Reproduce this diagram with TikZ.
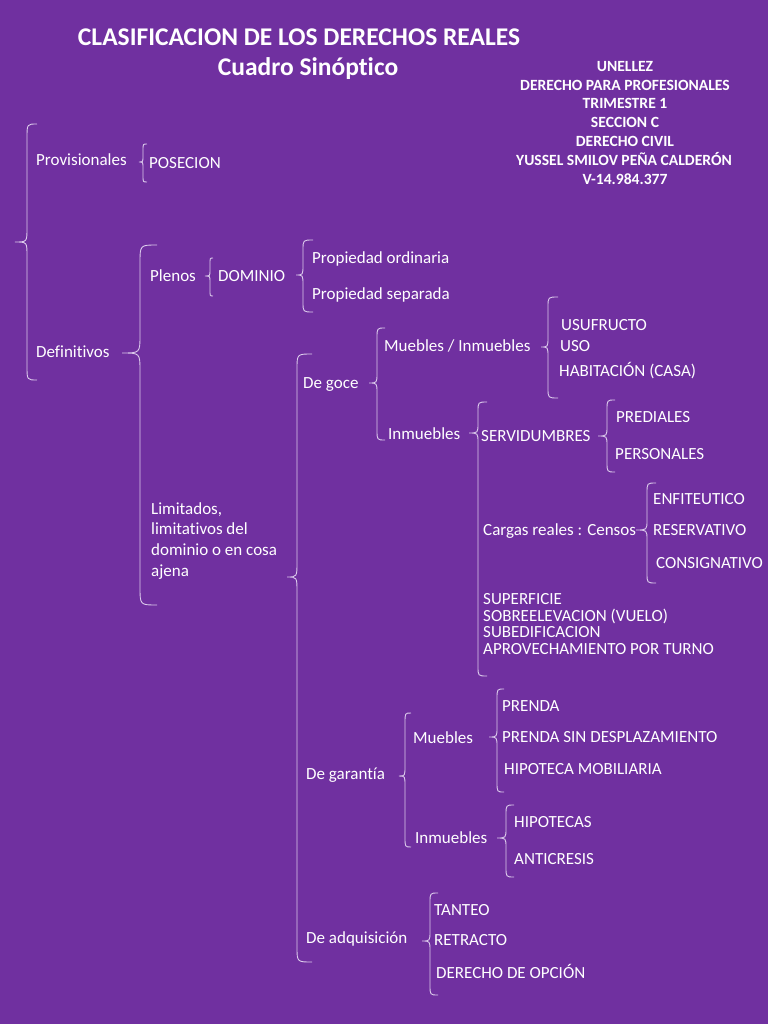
\documentclass[tikz,border=0pt]{standalone}
\usepackage{fontspec}
\setmainfont{Carlito}[Ligatures=NoCommon]
\definecolor{bg}{HTML}{7030A0}
\definecolor{brc}{HTML}{DCCBEC}
\newcommand\brc[7]{% xv, ytop, ytip, ybot, end, tip, r
  \draw[brcline] ({#1+#5},#2) .. controls (#1,#2) .. (#1,{#2+#7}) -- (#1,{#3-#7})
    .. controls (#1,#3) .. ({#1-#6},#3) .. controls (#1,#3) .. (#1,{#3+#7})
    -- (#1,{#4-#7}) .. controls (#1,#4) .. ({#1+#5},#4);}
\tikzset{
  brcline/.style={draw=brc, line width=0.9pt},
  t/.style={anchor=west, inner sep=0pt, text=white, font=\fontsize{17}{19}\selectfont, text height=10.9pt, text depth=0pt},
  ttl/.style={anchor=center, inner sep=0pt, text=white, text depth=0pt},
  hd/.style={anchor=center, inner sep=0pt, text=white, font=\bfseries\fontsize{15.6}{17}\selectfont, text height=10pt, text depth=0pt},
}
\begin{document}
\begin{tikzpicture}[x=1pt,y=-1pt]
\fill[bg] (0,0) rectangle (768,1024);
\useasboundingbox (0,0) rectangle (768,1024);
% titles
\node[ttl, font=\bfseries\fontsize{25.5}{28}\selectfont, text height=16.5pt] (title) at (299,37) {CLASIFICACION DE LOS DERECHOS REALES};
\node[ttl, font=\bfseries\fontsize{25.5}{28}\selectfont, text height=16.5pt] (sub) at (308,67) {Cuadro Sinóptico};
% header block
\node[hd] (h1) at (625,67) {UNELLEZ};
\node[hd] (h2) at (625,86) {DERECHO PARA PROFESIONALES};
\node[hd] (h3) at (625,104) {TRIMESTRE 1};
\node[hd] (h4) at (625,123) {SECCION C};
\node[hd] (h5) at (625,142) {DERECHO CIVIL};
\node[hd] (h6) at (624,161) {YUSSEL SMILOV PEÑA CALDERÓN};
\node[hd] (h7) at (625,180) {V-14.984.377};
% braces
\brc{27}{124}{242}{380}{10}{12}{14}
\brc{143}{144}{162}{182}{4}{4}{6}
\brc{140}{245}{353}{605}{17}{18}{18}
\brc{210}{258}{276}{296}{3}{5}{6}
\brc{303}{240}{275}{312}{10}{7}{10}
\brc{297}{354}{577}{962}{15}{10}{15}
\brc{377}{328}{383}{440}{8}{8}{10}
\brc{548}{297}{347}{398}{10}{7}{10}
\brc{478}{402}{433}{676}{9}{9}{10}
\brc{607}{400}{436}{472}{8}{9}{10}
\brc{647}{483}{530}{583}{9}{11}{10}
\brc{405}{713}{776}{847}{6}{6}{10}
\brc{497}{689}{737}{792}{7}{8}{10}
\brc{506}{805}{838}{877}{8}{9}{10}
\brc{430}{893}{941}{995}{8}{8}{10}
% texts
\node[t] (prov) at (36,160) {Provisionales};
\node[t] (pos) at (149,163) {POSECION};
\node[t] (def) at (36,352) {Definitivos};
\node[t] (plen) at (150,276) {Plenos};
\node[t] (dom) at (218,276) {DOMINIO};
\node[t] (pord) at (312,258) {Propiedad ordinaria};
\node[t] (psep) at (312,294) {Propiedad separada};
\node[t] (lim1) at (151,509) {Limitados,};
\node[t] (lim2) at (151,529) {limitativos del};
\node[t] (lim3) at (151,550) {dominio o en cosa};
\node[t] (lim4) at (151,571) {ajena};
\node[t] (goce) at (303,383) {De goce};
\node[t] (mi) at (384,346) {Muebles / Inmuebles};
\node[t] (usu) at (561,325) {USUFRUCTO};
\node[t] (uso) at (560,346) {USO};
\node[t] (hab) at (559,371) {HABITACIÓN (CASA)};
\node[t] (inm) at (388,434) {Inmuebles};
\node[t] (serv) at (481,436) {SERVIDUMBRES};
\node[t] (pred) at (616,417) {PREDIALES};
\node[t] (pers) at (615,454) {PERSONALES};
\node[t] (carg) at (483,530) {Cargas reales : Censos};
\node[t] (enf) at (653,499) {ENFITEUTICO};
\node[t] (res) at (653,530) {RESERVATIVO};
\node[t] (cons) at (656,563) {CONSIGNATIVO};
\node[t] (sup) at (483,599) {SUPERFICIE};
\node[t] (sob) at (483,616) {SOBREELEVACION (VUELO)};
\node[t] (sub2) at (483,632) {SUBEDIFICACION};
\node[t] (apr) at (483,649) {APROVECHAMIENTO POR TURNO};
\node[t] (gar) at (306,774) {De garantía};
\node[t] (mue) at (413,738) {Muebles};
\node[t] (inm2) at (415,838) {Inmuebles};
\node[t] (pre) at (502,706) {PRENDA};
\node[t] (psd) at (502,737) {PRENDA SIN DESPLAZAMIENTO};
\node[t] (hm) at (504,769) {HIPOTECA MOBILIARIA};
\node[t] (hip) at (514,822) {HIPOTECAS};
\node[t] (ant) at (514,859) {ANTICRESIS};
\node[t] (adq) at (306,938) {De adquisición};
\node[t] (tan) at (434,910) {TANTEO};
\node[t] (ret) at (434,940) {RETRACTO};
\node[t] (dop) at (436,973) {DERECHO DE OPCIÓN};
\end{tikzpicture}
\end{document}
